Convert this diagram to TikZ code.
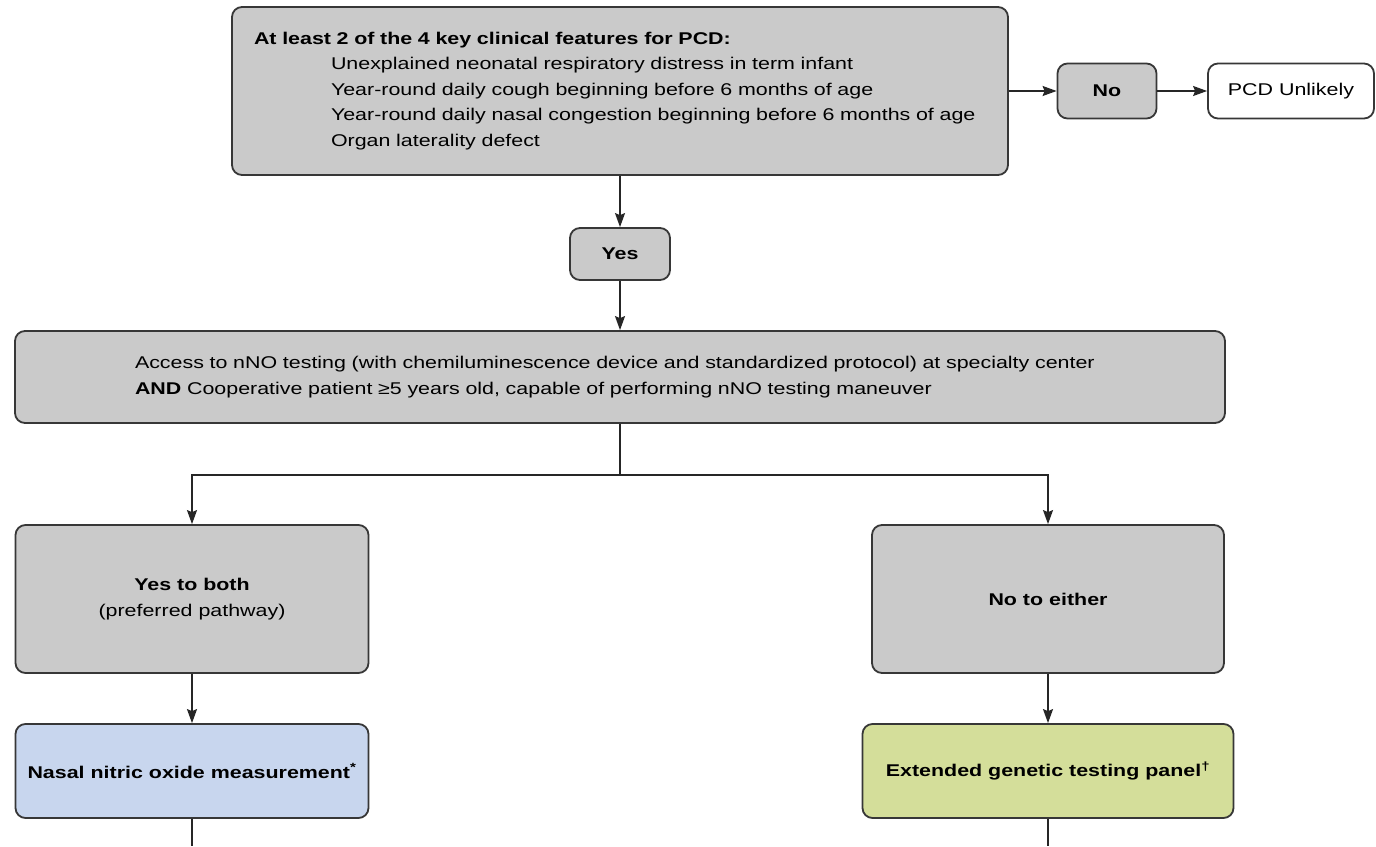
\documentclass[tikz,border=0pt]{standalone}
\usepackage{fontspec}
\setmainfont[FakeStretch=1.26]{Liberation Sans}
\usetikzlibrary{arrows.meta}
\definecolor{boxgray}{RGB}{202,202,202}
\definecolor{edgegray}{RGB}{55,55,55}
\definecolor{nnoblue}{RGB}{200,214,238}
\definecolor{genegreen}{RGB}{212,222,154}

\begin{document}
\begin{tikzpicture}
  [x=1pt,y=-1pt,
   every node/.style={rectangle,rounded corners=10pt,draw=edgegray,line width=1.8pt,
     fill=boxgray,font=\fontsize{17}{25.5}\selectfont,align=center},
   link/.style={line width=1.5pt,draw=black!85,-{Stealth[length=14pt,width=10pt,inset=2pt]}}]
  \useasboundingbox (0,0) rectangle (1376,846);
  \node (features) at (620,91) [minimum width=776pt,minimum height=168pt,
    text width=732pt,inner xsep=22pt,align=left]
    {\textbf{At least 2 of the 4 key clinical features for PCD:}\\
     \hspace*{77pt}Unexplained neonatal respiratory distress in term infant\\
     \hspace*{77pt}Year-round daily cough beginning before 6 months of age\\
     \hspace*{77pt}Year-round daily nasal congestion beginning before 6 months of age\\
     \hspace*{77pt}Organ laterality defect};
  \node (no) at (1107,91) [minimum width=99pt,minimum height=55pt] {\textbf{No}};
  \node (unlikely) at (1291,91) [minimum width=166pt,minimum height=55pt,fill=white] {PCD Unlikely};
  \node (yes) at (620,254) [minimum width=100pt,minimum height=52pt] {\textbf{Yes}};
  % Access and cooperation
  \node (access) at (620,377) [minimum width=1210pt,minimum height=92pt,
    text width=970pt,align=left]
    {Access to nNO testing (with chemiluminescence device and standardized protocol) at specialty center\\
     \textbf{AND} Cooperative patient ≥5 years old, capable of performing nNO testing maneuver};
  \coordinate (split) at (620,475);
  \node (both) at (192,599) [minimum width=353pt,minimum height=148pt]
    {\textbf{Yes to both}\\(preferred pathway)};
  \node (either) at (1048,599) [minimum width=352pt,minimum height=148pt] {\textbf{No to either}};
  % Testing
  \node (nno) at (192,771) [minimum width=353pt,minimum height=94pt,fill=nnoblue]
    {\textbf{Nasal nitric oxide measurement\textsuperscript{*}}};
  \node (genetic) at (1048,771) [minimum width=371pt,minimum height=94pt,fill=genegreen]
    {\textbf{Extended genetic testing panel\textsuperscript{\textdagger}}};
  \coordinate (nnoend) at (192,846);
  \coordinate (geneticend) at (1048,846);

  \foreach \from/\to in {features/no,no/unlikely,features/yes,yes/access,
                         both/nno,either/genetic}
    \draw[link] (\from) -- (\to);
  \draw[line width=1.5pt,black!85] (access) -- (split);
  \draw[link] (split) -| (both);
  \draw[link] (split) -| (either);
  \draw[line width=1.5pt,black!85] (nno) -- (nnoend);
  \draw[line width=1.5pt,black!85] (genetic) -- (geneticend);

\end{tikzpicture}
\end{document}
